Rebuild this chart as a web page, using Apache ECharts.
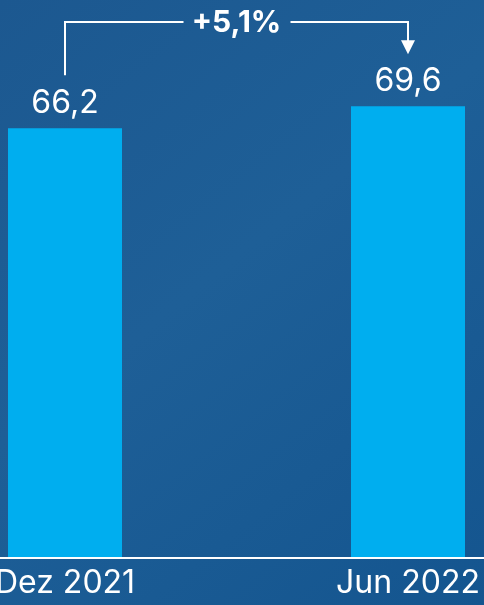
<!DOCTYPE html>
<html>
<head>
    <meta charset="utf-8">
    <title>ECharts</title>
    <script src="https://cdn.jsdelivr.net/npm/echarts@6/dist/echarts.min.js"></script>
    <style>
        html, body { margin: 0; padding: 0; }
    </style>
</head>
<body>
<div id="main" style="width: 484px;height:605px;"></div>
<script type="text/javascript">

    var categories = ['Dez 2021', 'Jun 2022'];
    var values = [66.2, 69.6];

    function fmt(v){
        return v.toFixed(1).replace('.', ',');
    }

    var myChart = echarts.init(document.getElementById('main'));

    var option = {
        backgroundColor: new echarts.graphic.LinearGradient(0, 0, 1, 1, [
            {offset: 0, color: '#1c5890'},
            {offset: 0.45, color: '#1e5f97'},
            {offset: 1, color: '#14558f'}
        ]),
        textStyle: {fontFamily: 'Inter'},
        grid: {
            left: 65,
            right: 76,
            top: 0,
            bottom: 48,
            containLabel: false,
            outerBoundsMode: 'none'
        },
        xAxis: {
            type: 'category',
            data: categories,
            boundaryGap: false,
            axisLine: {show: false},
            axisTick: {show: false},
            axisLabel: {color: '#ffffff', fontSize: 32, margin: 10, fontFamily: 'Inter'}
        },
        yAxis: {
            type: 'value',
            min: 0,
            max: 86,
            show: false,
            splitLine: {show: false}
        },
        series: [{
            type: 'bar',
            barWidth: 114,
            clip: false,
            data: values,
            itemStyle: {color: '#00aeef'},
            label: {
                show: true,
                position: 'top',
                distance: 9,
                color: '#ffffff',
                fontSize: 32,
                fontFamily: 'Inter',
                formatter: function(p){ return fmt(p.value); }
            }
        }]
    };
    myChart.setOption(option);

    // bracket annotation with change in percent, baseline across full width
    var p0 = myChart.convertToPixel({seriesIndex: 0}, [0, values[0]]);
    var p1 = myChart.convertToPixel({seriesIndex: 0}, [1, values[1]]);
    var base = myChart.convertToPixel({seriesIndex: 0}, [0, 0]);
    var change = (values[1] / values[0] - 1) * 100;
    var topY = 22;
    var midX = (p0[0] + p1[0]) / 2;
    var lineStyle = {stroke: '#ffffff', lineWidth: 2, fill: null};

    myChart.setOption({
        graphic: [
            {type: 'line', shape: {x1: 0, y1: base[1] + 1, x2: 484, y2: base[1] + 1}, style: {stroke: '#ffffff', lineWidth: 2}},
            {type: 'polyline', shape: {points: [[p0[0], p0[1] - 53], [p0[0], topY], [midX - 53, topY]]}, style: lineStyle},
            {type: 'polyline', shape: {points: [[midX + 54, topY], [p1[0], topY], [p1[0], p1[1] - 63]]}, style: lineStyle},
            {type: 'polygon', shape: {points: [[p1[0] - 7, p1[1] - 66], [p1[0] + 7, p1[1] - 66], [p1[0], p1[1] - 52]]}, style: {fill: '#ffffff'}},
            {type: 'text', x: midX, y: topY + 1, style: {
                text: '+' + fmt(change) + '%', fill: '#ffffff', fontSize: 30, fontWeight: 'bold',
                fontFamily: 'Inter', align: 'center', verticalAlign: 'middle'
            }}
        ]
    });

</script>
</body>
</html>
